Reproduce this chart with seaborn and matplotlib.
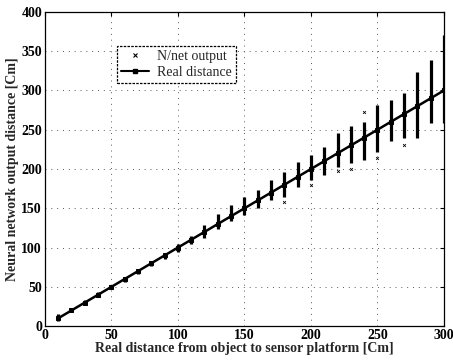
import matplotlib
matplotlib.use("Agg")
import matplotlib.pyplot as plt
import seaborn as sns
import pandas as pd
from matplotlib.lines import Line2D

# ---- data ----
dist = [10, 20, 30, 40, 50, 60, 70, 80, 90, 100, 110, 120, 130, 140, 150,
        160, 170, 180, 190, 200, 210, 220, 230, 240, 250, 260, 270, 280, 290, 300]
out_low = [7, 18, 28, 37, 47, 56, 66, 76, 86, 95, 104, 112, 124, 134, 141,
           150, 160, 164, 177, 186, 192, 203, 208, 211, 222, 236, 239, 239, 258, 258]
out_high = [15, 22, 33, 43, 53, 63, 73, 83, 93, 104, 115, 129, 143, 154, 164,
            173, 186, 196, 209, 218, 228, 246, 255, 260, 281, 288, 297, 323, 339, 370]
outlier_x = [240, 230, 250, 220, 270, 200, 180]
outlier_y = [272, 200, 214, 197, 231, 180, 158]

sns.set_theme(style="white")
plt.rcParams['font.family'] = ['Liberation Serif', 'DejaVu Serif']
plt.rcParams['font.weight'] = 'bold'

fig = plt.figure(figsize=(4.53, 3.6), dpi=100)
ax = fig.add_axes([0.099, 0.094, 0.881, 0.873])

# network output spread (columns of markers)
ax.vlines(dist, out_low, out_high, colors='black', linewidth=2.3, zorder=2)
df_out = pd.DataFrame({"x": outlier_x, "y": outlier_y})
sns.scatterplot(data=df_out, x="x", y="y", marker='x', s=4, color='black',
                linewidth=0.6, ax=ax, zorder=3)

# real distance line
df_real = pd.DataFrame({"x": dist, "y": dist})
sns.lineplot(data=df_real, x="x", y="y", color='black', linewidth=1.8,
             marker='s', markersize=3, markeredgecolor='black',
             markerfacecolor='black', ax=ax, zorder=4)

ax.set_xlim(0, 300)
ax.set_ylim(0, 400)
ax.set_xticks([0, 50, 100, 150, 200, 250, 300])
ax.set_yticks([0, 50, 100, 150, 200, 250, 300, 350, 400])
ax.grid(True, color='0.35', linestyle=(0, (1, 5)), linewidth=0.7)
ax.tick_params(direction='in', top=True, right=True, length=3, width=0.8,
               labelsize=10, colors='black', pad=2)
for lab in ax.get_xticklabels() + ax.get_yticklabels():
    lab.set_fontweight('bold')
for sp in ax.spines.values():
    sp.set_color('black')
    sp.set_linewidth(0.9)

ax.set_xlabel("Real distance from object to sensor platform [Cm]",
              fontsize=10, fontweight='bold', labelpad=0)
ax.set_ylabel("Neural network output distance [Cm]",
              fontsize=10, fontweight='bold', labelpad=2)

handles = [Line2D([], [], linestyle='none', marker='x', markersize=2.5,
                  color='black', markeredgewidth=0.8),
           Line2D([], [], color='black', linewidth=1.5, marker='s', markersize=2.5)]
leg = ax.legend(handles, ["N/net output", "Real distance"], loc='upper left',
                bbox_to_anchor=(0.18, 0.892), fancybox=False, frameon=True,
                edgecolor='black', framealpha=1, fontsize=10,
                borderpad=0.3, labelspacing=0.2, handlelength=2.0,
                handletextpad=0.6, borderaxespad=0)
leg.get_frame().set_linewidth(0.9)
leg.get_frame().set_linestyle((0, (2, 1)))
for t in leg.get_texts():
    t.set_fontweight('normal')

fig.savefig("out.png", dpi=100)
